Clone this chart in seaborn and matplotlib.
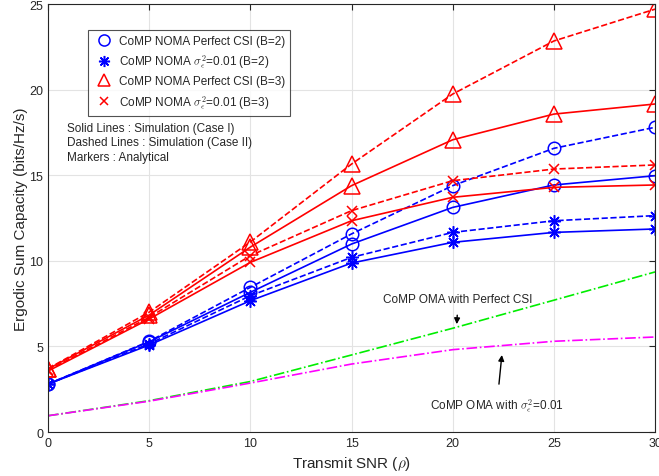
import numpy as np
import pandas as pd
import matplotlib
matplotlib.use("Agg")
import matplotlib.pyplot as plt
import seaborn as sns
from matplotlib.lines import Line2D

# SNR points (x axis)
snr = [0, 5, 10, 15, 20, 25, 30]

# CoMP NOMA, B=2 (blue)
b2_perfect_case1 = [2.8, 5.27, 8.16, 10.98, 13.12, 14.43, 14.97]
b2_perfect_case2 = [2.8, 5.30, 8.45, 11.57, 14.39, 16.57, 17.80]
b2_error_case1 = [2.8, 5.08, 7.67, 9.87, 11.08, 11.66, 11.86]
b2_error_case2 = [2.8, 5.15, 7.96, 10.20, 11.66, 12.34, 12.64]

# CoMP NOMA, B=3 (red)
b3_perfect_case1 = [3.68, 6.83, 10.80, 14.39, 17.07, 18.57, 19.16]
b3_perfect_case2 = [3.70, 7.00, 11.10, 15.65, 19.74, 22.84, 24.70]
b3_error_case1 = [3.56, 6.60, 9.91, 12.34, 13.71, 14.29, 14.43]
b3_error_case2 = [3.60, 6.70, 10.30, 12.93, 14.68, 15.36, 15.60]

# CoMP OMA
oma_perfect = [0.95, 1.83, 2.95, 4.50, 6.06, 7.70, 9.35]
oma_error = [0.95, 1.80, 2.86, 3.97, 4.81, 5.30, 5.55]

legend_labels = [
    "CoMP NOMA Perfect CSI (B=2)",
    r"CoMP NOMA $\sigma_\epsilon^2$=0.01 (B=2)",
    "CoMP NOMA Perfect CSI (B=3)",
    r"CoMP NOMA $\sigma_\epsilon^2$=0.01 (B=3)",
]

sns.set_style("white")
plt.rcParams['font.family'] = ['Liberation Sans', 'DejaVu Sans']
plt.rcParams['mathtext.fontset'] = 'cm'

fig = plt.figure(figsize=(6.59, 4.77), dpi=100)
ax = fig.add_axes([0.0728, 0.0922, 0.9212, 0.8973])

asterisk = (8, 2, 0)
series = [
    (b2_perfect_case1, 'blue', '-', 'o', 9),
    (b2_perfect_case2, 'blue', '--', 'o', 9),
    (b2_error_case1, 'blue', '-', asterisk, 9),
    (b2_error_case2, 'blue', '--', asterisk, 9),
    (b3_perfect_case1, 'red', '-', '^', 11),
    (b3_perfect_case2, 'red', '--', '^', 11),
    (b3_error_case1, 'red', '-', 'x', 7),
    (b3_error_case2, 'red', '--', 'x', 7),
]
for vals, col, ls, mk, ms in series:
    sns.lineplot(x=snr, y=vals, ax=ax, color=col, linestyle=ls, marker=mk,
                 markersize=ms, markerfacecolor='none', markeredgecolor=col,
                 markeredgewidth=1.1, linewidth=1.2)

sns.lineplot(x=snr, y=oma_perfect, ax=ax, color='#00ee00', linestyle='-.', linewidth=1.2)
sns.lineplot(x=snr, y=oma_error, ax=ax, color='magenta', linestyle='-.', linewidth=1.2)

ax.set_xlim(0, 30)
ax.set_ylim(0, 25)
ax.set_xticks(range(0, 31, 5))
ax.set_yticks(range(0, 26, 5))
ax.grid(True, color='#e3e3e3', linewidth=0.8)
ax.tick_params(direction='in', top=True, right=True, labelsize=9, colors='#262626', length=4)
for s in ax.spines.values():
    s.set_color('#262626')
    s.set_linewidth(0.8)

ax.set_xlabel(r"Transmit SNR ($\rho$)", fontsize=11, color='#262626')
ax.set_ylabel("Ergodic Sum Capacity (bits/Hz/s)", fontsize=11, color='#262626', labelpad=1)

handles = [
    Line2D([], [], color='blue', marker='o', linestyle='none', markersize=8, markerfacecolor='none', markeredgewidth=1.1),
    Line2D([], [], color='blue', marker=asterisk, linestyle='none', markersize=8, markeredgewidth=1.1),
    Line2D([], [], color='red', marker='^', linestyle='none', markersize=9, markerfacecolor='none', markeredgewidth=1.1),
    Line2D([], [], color='red', marker='x', linestyle='none', markersize=6, markeredgewidth=1.1),
]
leg = ax.legend(handles, legend_labels, loc='upper left', bbox_to_anchor=(0.057, 0.954),
                fontsize=8.5, frameon=True, fancybox=False, edgecolor='#262626',
                handletextpad=0.3, borderpad=0.45, labelspacing=0.45, handlelength=1.8)
leg.get_frame().set_linewidth(0.8)

ax.text(0.94, 18.1, "Solid Lines : Simulation (Case I)\nDashed Lines : Simulation (Case II)\nMarkers : Analytical",
        fontsize=8.5, va='top', linespacing=1.25)

ax.annotate("CoMP OMA with Perfect CSI", xy=(20.2, 6.3), xytext=(20.27, 7.77),
            ha='center', va='center', fontsize=8.5,
            arrowprops=dict(arrowstyle='-|>', color='black', lw=1, shrinkA=5, shrinkB=0))
ax.annotate(r"CoMP OMA with $\sigma_\epsilon^2$=0.01", xy=(22.43, 4.5), xytext=(22.18, 1.54),
            ha='center', va='center', fontsize=8.5,
            arrowprops=dict(arrowstyle='-|>', color='black', lw=1, shrinkA=7, shrinkB=0))

fig.savefig("out.png", dpi=100)
